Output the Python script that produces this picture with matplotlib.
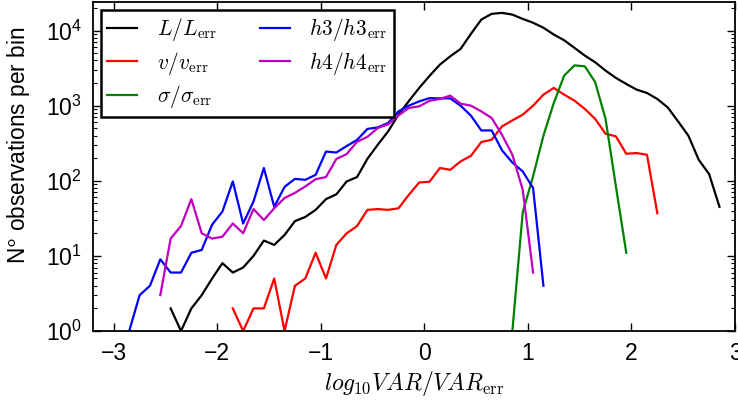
import numpy as np
import matplotlib
matplotlib.use("Agg")
import matplotlib.pyplot as plt

# bin centres are on a 0.1 grid, each series covers its own range
L_start = -2.45
L_counts = [2, 1, 2, 3, 5, 8, 6, 7, 10, 16, 14, 19, 29, 33, 41, 57, 66, 98,
            112, 196, 302, 454, 760, 1150, 1722, 2490, 3520, 4540, 5700, 9040,
            14000, 16700, 17200, 16300, 14300, 12700, 10900, 8850, 7430, 5880,
            4640, 3780, 2930, 2340, 1945, 1635, 1476, 1228, 948, 618, 398,
            190, 123, 45]

v_start = -1.85
v_counts = [2, 1, 2, 2, 5, 1, 4, 5, 11, 5, 14, 20, 25, 41, 42, 41, 43, 65,
            95, 97, 148, 140, 181, 215, 328, 352, 530, 637, 759, 1000, 1402,
            1722, 1402, 1166, 904, 665, 423, 390, 229, 234, 222, 37]

sig_start = 0.85
sig_counts = [1, 38, 115, 398, 1087, 2512, 3440, 3340, 2050, 665, 84, 11]

h3_start = -2.85
h3_counts = [1, 3, 4, 9, 6, 6, 11, 12, 26, 39, 98, 27, 53, 148, 45, 83, 106,
             103, 120, 245, 238, 290, 350, 490, 514, 588, 839, 1000, 1141,
             1260, 1250, 1250, 1000, 735, 468, 468, 254, 175, 133, 80, 4]

h4_start = -2.55
h4_counts = [3, 17, 25, 57, 20, 17, 18, 27, 20, 42, 30, 43, 59, 69, 84, 105,
             112, 195, 227, 330, 385, 504, 565, 740, 932, 979, 1160, 1228,
             1360, 1064, 1000, 839, 686, 410, 222, 76, 6]

series = [
    (L_start, L_counts, r"$L/L_{\rm err}$", "k"),
    (v_start, v_counts, r"$v/v_{\rm err}$", "r"),
    (sig_start, sig_counts, r"$\sigma/\sigma_{\rm err}$", (0, 0.5, 0)),
    (h3_start, h3_counts, r"$h3/h3_{\rm err}$", "b"),
    (h4_start, h4_counts, r"$h4/h4_{\rm err}$", (0.75, 0, 0.75)),
]

plt.rcParams["font.family"] = ["Liberation Sans", "DejaVu Sans"]
plt.rcParams["mathtext.fontset"] = "cm"
plt.rcParams["xtick.direction"] = "in"
plt.rcParams["ytick.direction"] = "in"

fig = plt.figure(figsize=(7.38, 4.0), dpi=100)
ax = fig.add_axes([93 / 738, 1 - 331 / 400, (735 - 93) / 738, (331 - 2) / 400])

for start, counts, label, color in series:
    x = start + 0.1 * np.arange(len(counts))
    ax.plot(x, counts, color=color, linewidth=1.6, label=label)

ax.set_yscale("log")
ax.set_xlim(-3.2, 3.0)
ax.set_ylim(1, 2.4e4)
ax.set_xticks(np.arange(-3, 4, 1))
ax.set_xticklabels(["\u22123", "\u22122", "\u22121", "0", "1", "2", "3"])
ax.tick_params(axis="both", which="major", labelsize=16.5, length=6, width=1,
               top=True, right=True, pad=8)
ax.tick_params(axis="y", which="minor", length=3, width=0.8, right=True)
for sp in ax.spines.values():
    sp.set_linewidth(1.3)

ax.set_xlabel(r"$log_{10}VAR/VAR_{\rm err}$", fontsize=17, labelpad=3)
ax.set_ylabel(r"N$^\mathsf{o}$ observations per bin", fontsize=16.3)
ax.yaxis.set_label_coords(-0.095, 0.565)

leg = ax.legend(loc="upper left", ncol=2, fontsize=15.5, fancybox=False,
                framealpha=1, handlelength=1.4, handletextpad=0.9,
                columnspacing=2.0, borderaxespad=0.36, labelspacing=0.3,
                borderpad=0.3)
leg.get_frame().set_edgecolor("k")
leg.get_frame().set_linewidth(1.8)

fig.savefig("out.png", dpi=100)
